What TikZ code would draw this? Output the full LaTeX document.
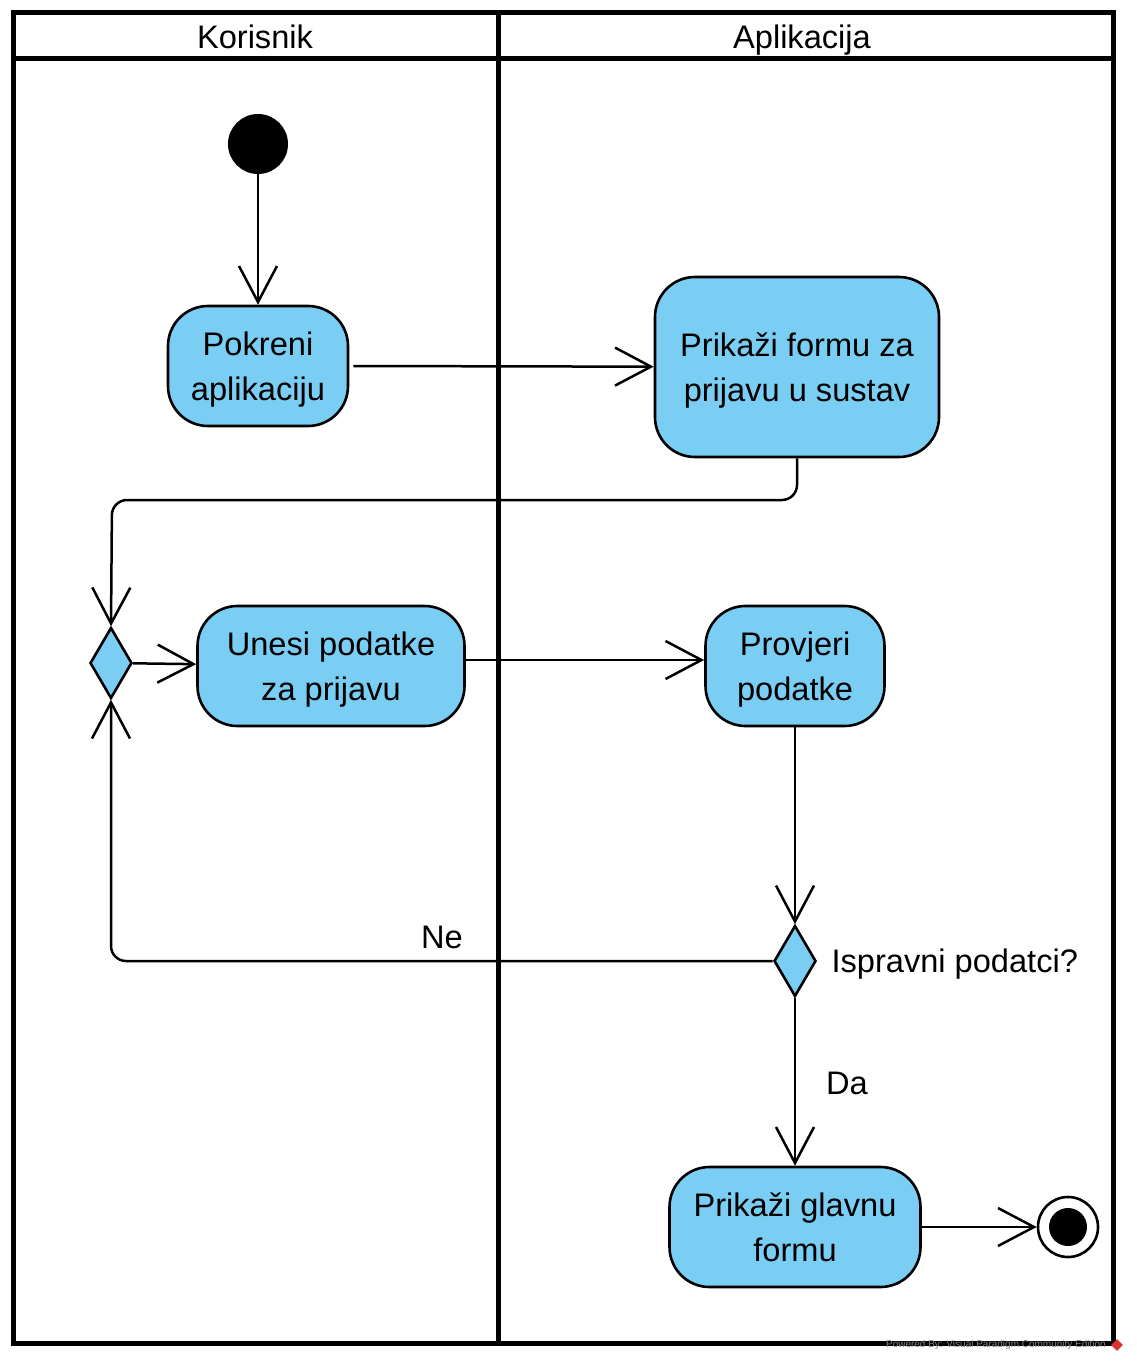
\documentclass[tikz,border=0pt]{standalone}
\usepackage{fontspec}
\setmainfont{Liberation Sans}
\usepackage{xcolor}
\usepackage{tikz}
\usetikzlibrary{shapes,arrows,positioning,calc,arrows.meta}

\definecolor{akcija}{HTML}{7ACEF4}
\definecolor{logo}{HTML}{D9342B}

\begin{document}
\begin{tikzpicture}[x=1pt,y=-1pt,
    font=\fontsize{32.6}{45}\selectfont,
    >={Straight Barb[length=36pt,width=38pt]},
    akt/.style={draw, fill=akcija, line width=2.6pt, rounded corners=40pt, align=center, inner sep=0pt, text depth=-7pt},
    odl/.style={diamond, draw, fill=akcija, line width=2.6pt, inner sep=0pt, minimum width=42pt, minimum height=71pt},
    veza/.style={line width=2.5pt}]
    \useasboundingbox (0,0) rectangle (1137,1368);

    % Swimlanes
    \draw[line width=5pt] (13,12) rectangle (1113,1343);
    \draw[line width=5pt] (13,58) -- (1113,58);
    \draw[line width=5pt] (498,12) -- (498,1343);
    \node[anchor=base] (korisnik) at (255,48) {Korisnik};
    \node[anchor=base] (aplikacija) at (802,48) {Aplikacija};

    % Nodes
    \node[circle, fill=black, minimum size=60pt, inner sep=0pt] (start) at (258,144) {};
    \node[akt, minimum width=180pt, minimum height=120pt] (pokreni) at (258,366) {Pokreni\\aplikaciju};
    \node[akt, minimum width=284pt, minimum height=180pt] (forma) at (797,367) {Prikaži formu za\\prijavu u sustav};
    \node[odl] (spoj) at (111,663) {};
    \node[akt, minimum width=267pt, minimum height=120pt] (unesi) at (331,666) {Unesi podatke\\za prijavu};
    \node[akt, minimum width=179pt, minimum height=120pt] (provjeri) at (795,666) {Provjeri\\podatke};
    \node[odl] (odluka) at (795,961) {};
    \node[anchor=base west] (pitanje) at (828,972) {Ispravni podatci?};
    \node[akt, minimum width=251pt, minimum height=120pt] (glavna) at (795,1227) {Prikaži glavnu\\formu};
    \node[circle, draw, line width=2.6pt, minimum size=60pt, inner sep=0pt] (kraj) at (1068,1227) {};
    \fill (kraj) circle (19pt);

    % Guards
    \node (ne) at (442,937) {Ne};
    \node (da) at (847,1083) {Da};

    % Flows
    \coordinate (lijevo) at (112,500);
    \draw[veza,->] (start) -- (pokreni);
    \draw[veza,->] ([xshift=4pt]pokreni.east) -- (forma);
    \draw[veza,->,rounded corners=15pt] (forma.south) |- (lijevo) -- (spoj.north);
    \draw[veza,->] (spoj) -- (unesi);
    \draw[veza,->] ([yshift=6pt]unesi.east) -- ([yshift=6pt]provjeri.west);
    \draw[veza,->] (provjeri) -- (odluka);
    \draw[veza,->,rounded corners=15pt] (odluka.west) -| (spoj.south);
    \draw[veza,->] (odluka) -- (glavna);
    \draw[veza,->] (glavna) -- (kraj);

    % Watermark
    \node[anchor=east, text=gray, font=\fontsize{10}{10}\selectfont, inner sep=0pt] (vp) at (1106,1345) {Powered By: Visual Paradigm Community Edition};
    \node[diamond, fill=logo, minimum size=12pt, inner sep=0pt] (vplogo) at (1117,1345) {};
\end{tikzpicture}
\end{document}
